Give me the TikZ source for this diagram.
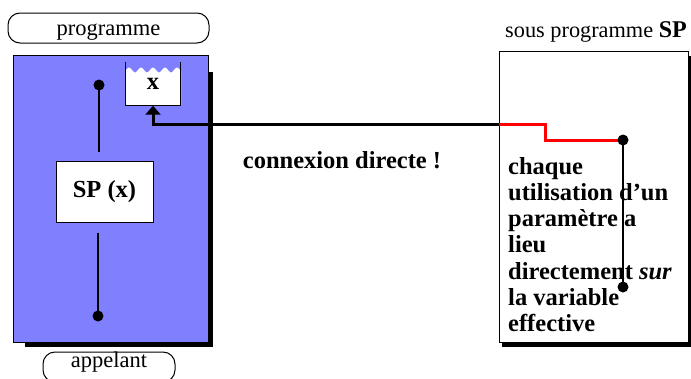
\documentclass[tikz,border=0pt]{standalone}
\usepackage{fontspec}
\setmainfont{Liberation Serif}
\usetikzlibrary{arrows.meta,calc}
\definecolor{progblue}{RGB}{128,128,255}

\begin{document}
\begin{tikzpicture}[x=1pt,y=-1pt,>={Triangle[length=9pt,width=15pt]},
  pill/.style={draw,line width=1pt,rounded corners=12pt,minimum height=30pt,
    inner sep=0pt,font=\fontsize{22.5}{24}\selectfont},
  whitebox/.style={draw,fill=white,line width=1pt,
    font=\bfseries\fontsize{24.5}{26}\selectfont},
  boldtext/.style={font=\bfseries\fontsize{24.5}{26.2}\selectfont},
  wire/.style={line width=3pt},
  thinwire/.style={line width=1.8pt}]
  \clip (0,0) rectangle (691,378);
  \fill[white] (0,0) rectangle (691,378);

  % calling program
  \node[pill,minimum width=201pt,text height=14pt,text depth=0pt] (prog)
    at (108.5,28) {programme};
  \node[pill,minimum width=132pt,text height=15pt,text depth=14pt] (caller)
    at (109,367) {appelant};
  \fill[black] (25,72) rectangle (213,347);
  \node[draw,fill=progblue,line width=.8pt,minimum width=195pt,
    minimum height=287pt] (main) at (110.5,198.5) {};

  \fill[white] (126,105) -- (126,70)
    -- plot[domain=126:181,samples=40] (\x,{70+2.5*sin(\x*30)})
    -- (181,105) -- cycle;
  \node[boldtext,minimum width=55pt,minimum height=43pt] (xbox) at (153,84) {x};
  \draw[line width=1pt] (xbox.north west) -- (xbox.south west)
    -- (xbox.south east) -- (xbox.north east);

  \node[whitebox,minimum width=97pt,minimum height=61pt] (spbox)
    at (104.5,191.5) {SP (x)\hspace{10pt}};
  \coordinate (ltop) at (99,85);
  \coordinate (lbot) at (98,316);
  \draw[thinwire] (ltop) -- ($(ltop |- spbox.north)+(0,-9)$);
  \draw[thinwire] ($(lbot |- spbox.south)+(0,10)$) -- (lbot);
  \fill (ltop) circle (5.5) (lbot) circle (5.5);

  % sub program
  \node[anchor=base west,inner sep=0pt,font=\fontsize{22.3}{24}\selectfont] (subtitle)
    at (505,37) {sous programme \textbf{\fontsize{24}{26}\selectfont SP}};
  \fill[black] (502,56) rectangle (694,347);
  \node[draw,fill=white,line width=1pt,minimum width=189pt,
    minimum height=291pt] (sub) at (593.5,196.5) {};
  \coordinate (entry) at (499,124);
  \coordinate (rtop) at (623,140);
  \coordinate (rbot) at (623,287);

  \draw[wire,red] (entry) -- ++(46,0) |- (rtop);
  \draw[wire,->] (entry) -| (xbox.south);
  \draw[thinwire] (rtop) -- (rbot);
  \fill (rtop) circle (5.5) (rbot) circle (5.5);

  \node[boldtext,anchor=base,inner sep=0pt] (direct) at (342,168.5) {connexion directe !};
  \node[boldtext,anchor=north west,align=left,inner sep=0pt] (note) at (508,157)
    {chaque\\utilisation d'un\\paramètre a\\lieu\\directement \textit{sur}\\la variable\\effective};
\end{tikzpicture}
\end{document}
